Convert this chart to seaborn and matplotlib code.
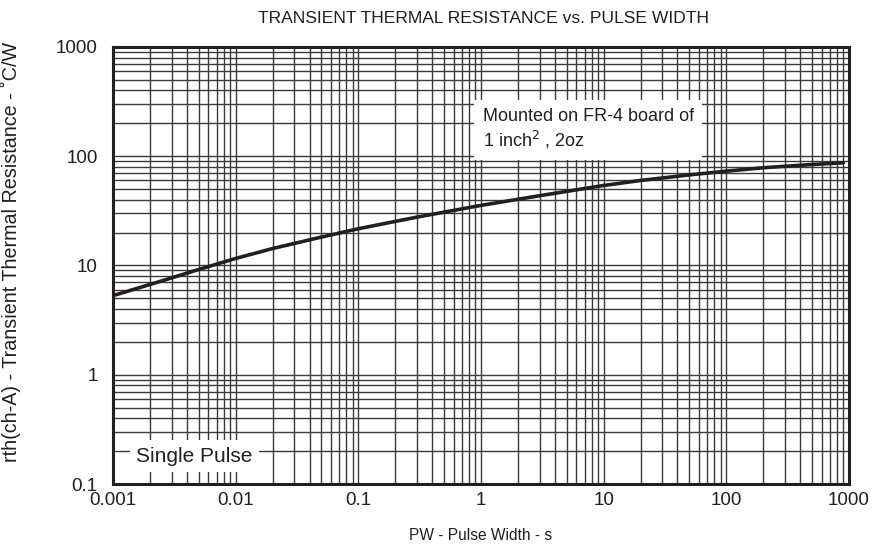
import matplotlib
matplotlib.use("Agg")
import matplotlib.pyplot as plt
import seaborn as sns
import pandas as pd
from matplotlib.ticker import FixedLocator, FixedFormatter, LogLocator, NullFormatter

pulse_width = [0.001, 0.002, 0.003, 0.005, 0.01, 0.02, 0.05, 0.1, 0.3, 1, 3,
               10, 20, 50, 100, 200, 500, 900]
rth = [5.3, 6.7, 7.7, 9.2, 11.6, 14.3, 18.2, 21.7, 27.7, 35.5, 43.5,
       54.0, 60.0, 67.5, 73.0, 78.5, 84.0, 87.0]
x_ticks = [0.001, 0.01, 0.1, 1, 10, 100, 1000]
x_labels = ["0.001", "0.01", "0.1", "1", "10", "100", "1000"]
y_ticks = [0.1, 1, 10, 100, 1000]
y_labels = ["0.1", "1", "10", "100", "1000"]

sns.set_style("white")
plt.rcParams['font.family'] = ['Liberation Sans', 'DejaVu Sans']

df = pd.DataFrame({"pw": pulse_width, "rth": rth})

fig = plt.figure(figsize=(8.77, 5.58), dpi=100)
ax = fig.add_axes([0.1289, 0.1326, 0.968 - 0.1289, 0.9158 - 0.1326])

sns.lineplot(data=df, x="pw", y="rth", ax=ax, color="#231f20", linewidth=2.6, zorder=5)
ax.set_xscale("log")
ax.set_yscale("log")
ax.set_xlim(0.001, 1000)
ax.set_ylim(0.1, 1000)

ax.xaxis.set_major_locator(FixedLocator(x_ticks))
ax.xaxis.set_major_formatter(FixedFormatter(x_labels))
ax.yaxis.set_major_locator(FixedLocator(y_ticks))
ax.yaxis.set_major_formatter(FixedFormatter(y_labels))
ax.xaxis.set_minor_locator(LogLocator(base=10, subs=range(2, 10), numticks=100))
ax.yaxis.set_minor_locator(LogLocator(base=10, subs=range(2, 10), numticks=100))
ax.xaxis.set_minor_formatter(NullFormatter())
ax.yaxis.set_minor_formatter(NullFormatter())

ax.grid(True, which="both", color="#3a3a3a", linewidth=1.0)
ax.tick_params(which="both", length=0, labelsize=13.5, colors="#231f20")
ax.tick_params(axis="x", pad=6)
ax.tick_params(axis="y", pad=11)

for s in ax.spines.values():
    s.set_color("#231f20")
    s.set_linewidth(2.2)

ax.set_xlabel("PW - Pulse Width - s", fontsize=11.2, color="#231f20")
ax.xaxis.set_label_coords(0.5, -0.1)
ax.set_ylabel("rth(ch-A) - Transient Thermal Resistance - \u02daC/W", fontsize=14.2,
              color="#231f20")
ax.yaxis.set_label_coords(-0.125, 0.531)
fig.text(0.551, 0.967, "TRANSIENT THERMAL RESISTANCE vs. PULSE WIDTH", ha="center",
         va="center", fontsize=12.6, color="#231f20")

ax.text(0.0046, 0.18, "Single Pulse", fontsize=15, color="#231f20", va="center", ha="center",
        zorder=6, bbox=dict(boxstyle="square,pad=0.3", facecolor="white", edgecolor="none"))
ax.text(1.03, 175, "Mounted on FR-4 board of\n1 inch$^{2}$ , 2oz", fontsize=13, color="#231f20",
        va="center", ha="left", linespacing=1.25, zorder=6,
        bbox=dict(boxstyle="square,pad=0.45", facecolor="white", edgecolor="none"))

fig.savefig("out.png", dpi=100)
